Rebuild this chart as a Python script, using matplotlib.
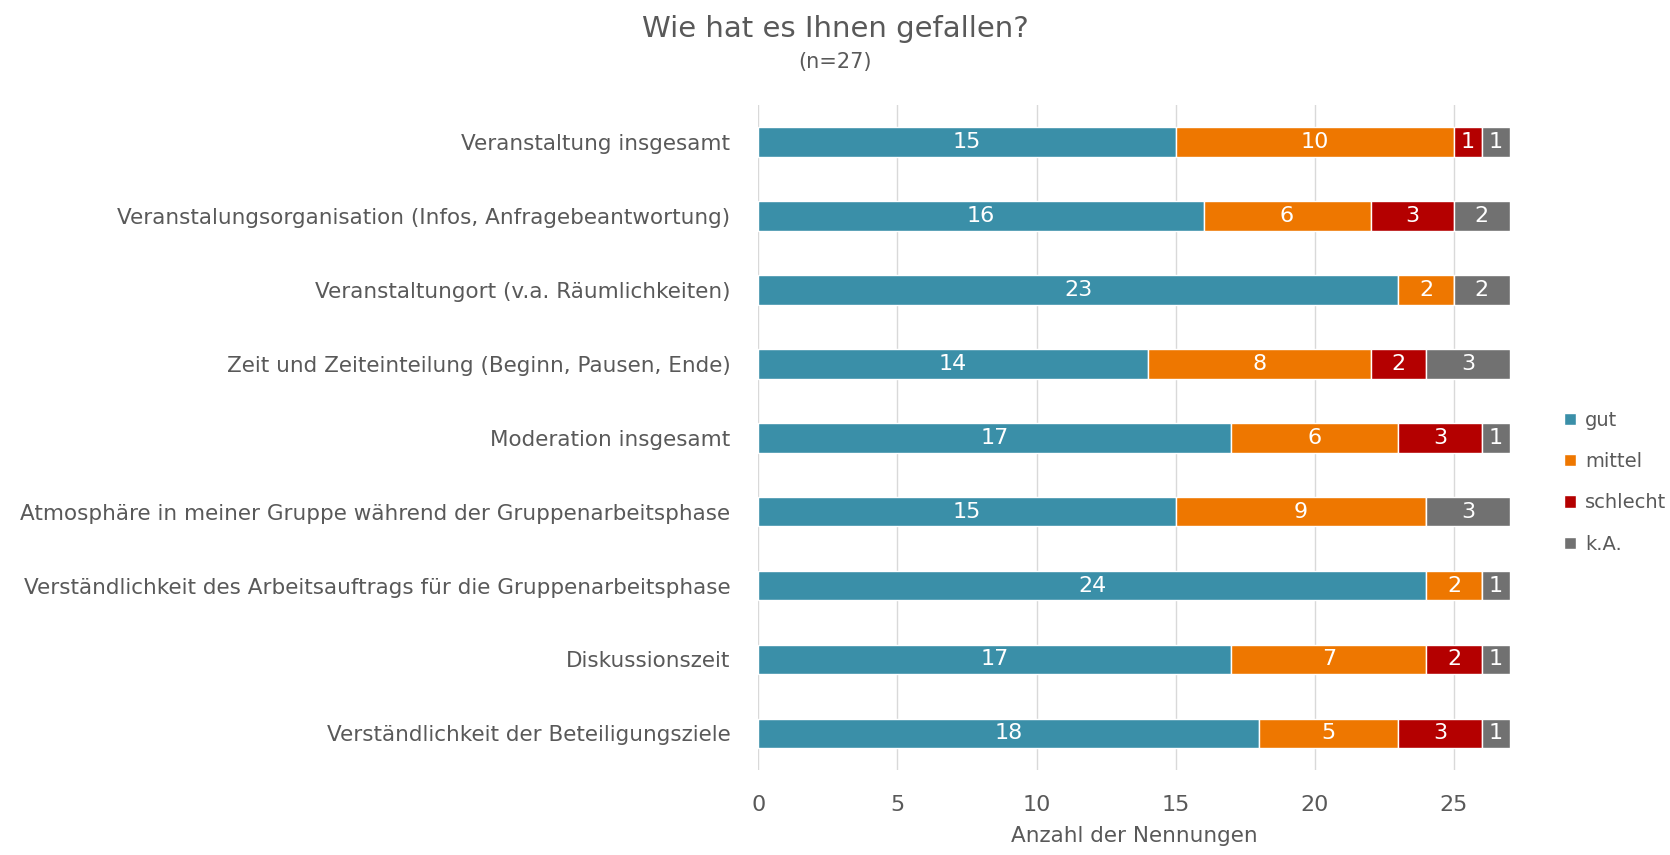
import matplotlib.pyplot as plt
import numpy as np

categories = [
    "Veranstaltung insgesamt",
    "Veranstalungsorganisation (Infos, Anfragebeantwortung)",
    "Veranstaltungort (v.a. Räumlichkeiten)",
    "Zeit und Zeiteinteilung (Beginn, Pausen, Ende)",
    "Moderation insgesamt",
    "Atmosphäre in meiner Gruppe während der Gruppenarbeitsphase",
    "Verständlichkeit des Arbeitsauftrags für die Gruppenarbeitsphase",
    "Diskussionszeit",
    "Verständlichkeit der Beteiligungsziele",
]
gut = [15, 16, 23, 14, 17, 15, 24, 17, 18]
mittel = [10, 6, 2, 8, 6, 9, 2, 7, 5]
schlecht = [1, 3, 0, 2, 3, 0, 0, 2, 3]
ka = [1, 2, 2, 3, 1, 3, 1, 1, 1]
series_names = ["gut", "mittel", "schlecht", "k.A."]
colors = ["#3A8FA8", "#EE7700", "#B40000", "#717171"]
xticks = [0, 5, 10, 15, 20, 25]

text_col = "#595959"
plt.rcParams['font.family'] = ['DejaVu Sans']

fig = plt.figure(figsize=(16.7, 8.55), dpi=100)
ax = fig.add_axes([0.454, 0.099, 0.45, 0.778])

y = np.arange(len(categories))
left = np.zeros(len(categories))
for name, vals, c in zip(series_names, [gut, mittel, schlecht, ka], colors):
    vals = np.array(vals)
    ax.barh(y, vals, left=left, height=0.4, color=c, label=name,
            edgecolor="white", linewidth=1)
    for yi, v, l in zip(y, vals, left):
        if v > 0:
            ax.text(l + v / 2, yi, str(v), ha="center", va="center",
                    color="white", fontsize=16)
    left += vals

ax.set_ylim(len(categories) - 0.5, -0.5)
ax.set_xlim(0, 27)
ax.set_xticks(xticks)
ax.set_yticks(y)
ax.set_yticklabels(categories, fontsize=15.5, color=text_col)
ax.tick_params(axis="y", length=0, pad=20)
ax.tick_params(axis="x", length=0, pad=18, labelsize=16, labelcolor=text_col)
ax.grid(axis="x", color="#D9D9D9", linewidth=1)
ax.set_axisbelow(True)
for s in ax.spines.values():
    s.set_visible(False)
ax.set_xlabel("Anzahl der Nennungen", fontsize=15.5, color=text_col, labelpad=8)

fig.text(0.5, 0.966, "Wie hat es Ihnen gefallen?", ha="center", va="center",
         fontsize=21, color=text_col)
fig.text(0.5, 0.927, "(n=27)", ha="center", va="center",
         fontsize=15, color=text_col)

leg = fig.legend(loc="center left", bbox_to_anchor=(0.926, 0.436), frameon=False,
                 fontsize=14, handlelength=0.6, handleheight=0.6,
                 handletextpad=0.5, labelspacing=1.15)
for t in leg.get_texts():
    t.set_color(text_col)

fig.savefig("out.png", dpi=100)
